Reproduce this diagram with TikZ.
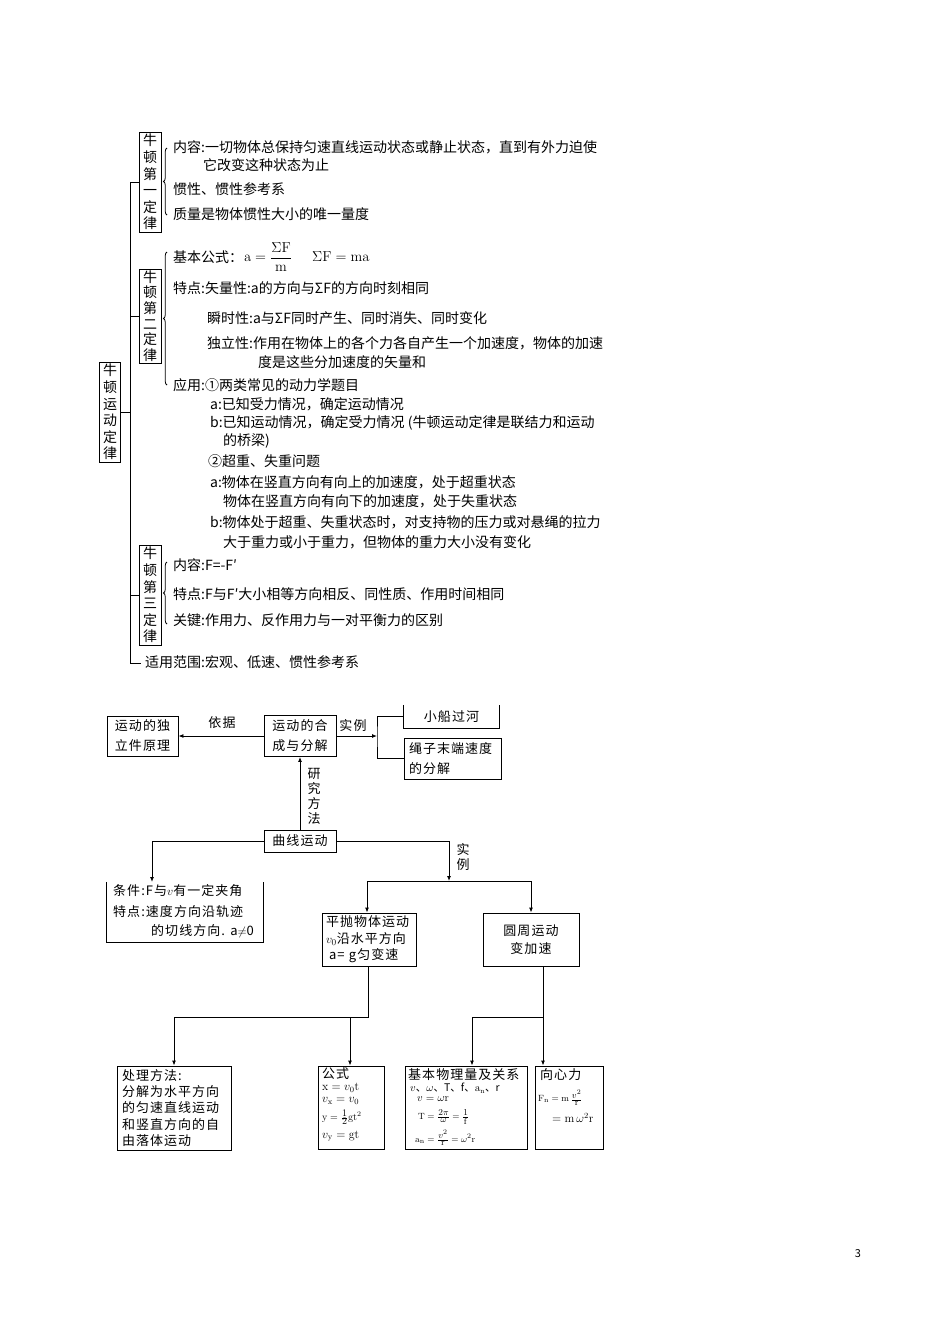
\documentclass[tikz,border=0pt]{standalone}
\usepackage{amsmath}
\usepackage[no-math]{fontspec}
\setmainfont{Noto Sans CJK SC}
\newfontfamily\bfam[LetterSpace=8]{Noto Sans CJK SC}
\usetikzlibrary{arrows.meta,decorations.pathreplacing}
\newcommand{\myfr}[2]{\frac{\textstyle #1}{\textstyle #2}}
\begin{document}
\begin{tikzpicture}[x=1pt,y=-1pt,
  ln/.style={line width=0.9pt},
  t/.style={anchor=west,inner sep=0pt,font=\fontsize{14}{17}\selectfont},
  vb/.style={draw,line width=0.9pt,inner sep=0pt,minimum width=22pt,align=center,font=\fontsize{14}{16.6}\selectfont},
  br/.style={decorate,decoration={brace,amplitude=3.5pt,mirror},line width=0.8pt},
  bxt/.style={draw,line width=0.9pt,inner sep=0pt,align=center,font=\bfam\fontsize{13}{20}\selectfont},
  bt/.style={inner sep=0pt,align=center,font=\bfam\fontsize{13}{15}\selectfont},
  lt/.style={anchor=west,inner sep=0pt,font=\bfam\fontsize{13}{15}\selectfont},
  arr/.style={line width=0.9pt,-{Latex[length=5pt,width=4pt]}},
  m/.style={anchor=west,inner sep=0pt,font=\fontsize{11.5}{13}\selectfont},
  mf/.style={anchor=west,inner sep=0pt,font=\fontsize{9.5}{11}\selectfont},
]
\useasboundingbox (0,0) rectangle (950,1344);

% ---------- Newton's laws tree ----------
\node[vb,minimum width=21pt,minimum height=100pt] (main) at (110,412) {牛\\顿\\运\\动\\定\\律};
\node[vb,minimum height=100pt] (n1) at (150,182) {牛\\顿\\第\\一\\定\\律};
\node[vb,minimum height=94pt,font=\fontsize{14}{15.6}\selectfont] (n2) at (150,316) {牛\\顿\\第\\二\\定\\律};
\node[vb,minimum height=100pt] (n3) at (150,595) {牛\\顿\\第\\三\\定\\律};

\coordinate (sT) at (130,182);
\coordinate (sM) at (130,412);
\coordinate (sB) at (130,663);
\node[t] (fw) at (145,662) {适用范围:宏观、低速、惯性参考系};
\draw[ln] (sT) -- (sB) -- ([xshift=-4pt]fw.west |- sB);
\draw[ln] (sT) -- (n1.west);
\draw[ln] (main.east) -- (sM);
\draw[ln] (n2.west -| sT) -- (n2.west);
\draw[ln] (n3.west -| sT) -- (n3.west);

\draw[br] (167,148) -- (167,215);
\draw[br] (167,252) -- (167,385);
\draw[br] (167,562) -- (167,624);

% law 1
\node[t] (a1) at (173,147) {内容:一切物体总保持匀速直线运动状态或静止状态，直到有外力迫使};
\node[t] (a2) at (203,165) {它改变这种状态为止};
\node[t] (a3) at (173,189) {惯性、惯性参考系};
\node[t] (a4) at (173,214) {质量是物体惯性大小的唯一量度};
% law 2
\node[t] (b1) at (173,257) {基本公式：};
\node[anchor=west,inner sep=0pt,font=\fontsize{14}{17}\selectfont] (b1f) at (244,257) {$\mathrm{a}=\dfrac{\Sigma\mathrm{F}}{\mathrm{m}}$};
\node[anchor=west,inner sep=0pt,font=\fontsize{14}{17}\selectfont] (b1g) at (312,257) {$\Sigma\mathrm{F}=\mathrm{ma}$};
\node[t] (b2) at (173,288) {特点:矢量性:a的方向与ΣF的方向时刻相同};
\node[t] (b3) at (207,318) {瞬时性:a与ΣF同时产生、同时消失、同时变化};
\node[t] (b4) at (207,343) {独立性:作用在物体上的各个力各自产生一个加速度，物体的加速};
\node[t] (b5) at (258,362) {度是这些分加速度的矢量和};
\node[t] (b6) at (173,385) {应用:①两类常见的动力学题目};
\node[t] (b7) at (210,404) {a:已知受力情况，确定运动情况};
\node[t] (b8) at (210,423) {b:已知运动情况，确定受力情况 (牛顿运动定律是联结力和运动};
\node[t] (b9) at (223,441) {的桥梁)};
\node[t] (b10) at (208,461) {②超重、失重问题};
\node[t] (b11) at (210,482) {a:物体在竖直方向有向上的加速度，处于超重状态};
\node[t] (b12) at (223,501) {物体在竖直方向有向下的加速度，处于失重状态};
\node[t] (b13) at (210,522) {b:物体处于超重、失重状态时，对支持物的压力或对悬绳的拉力};
\node[t] (b14) at (223,542) {大于重力或小于重力，但物体的重力大小没有变化};
% law 3
\node[t] (c1t) at (173,565) {内容:F=-F′};
\node[t] (c2t) at (173,594) {特点:F与F′大小相等方向相反、同性质、作用时间相同};
\node[t] (c3t) at (173,620) {关键:作用力、反作用力与一对平衡力的区别};

% ---------- curved motion chart ----------
\node[bxt,minimum width=71pt,minimum height=40pt] (dl) at (142.5,736) {运动的独\\立件原理};
\node[bxt,minimum width=72pt,minimum height=41pt] (hc) at (300,736) {运动的合\\成与分解};
\node[bt] (yj) at (222,723) {依据};
\node[bt] (sl) at (353,726) {实例};
\node[bt,minimum width=95pt,minimum height=23pt] (xc) at (451.5,716.5) {小船过河};
\draw[ln] (xc.north west) -- (xc.south west) -- (xc.south east) -- (xc.north east);
\node[bxt,minimum width=97pt,minimum height=41pt,text width=87pt,inner xsep=5pt,align=left] (sz) at (452.5,758.5) {绳子末端速度\\的分解};
\coordinate (bk) at (377,736);
\draw[arr] (hc.east) -- (bk);
\draw[ln] (xc.west) -| (bk) |- (sz.west);
\draw[arr] (hc.west) -- (dl.east);

\node[bxt,minimum width=72pt,minimum height=22pt] (qx) at (300,841) {曲线运动};
\draw[arr] (qx.north) -- (hc.south);
\node[bt] (yf) at (314,796) {研\\究\\方\\法};

\node[minimum width=156pt,minimum height=60pt,inner sep=0pt] (tj) at (185,912) {};
\draw[ln] (tj.north west) -- (tj.south west) -- (tj.south east) -- (tj.north east);
\node[lt] (tj1) at (113,891) {条件:F与$v$有一定夹角};
\node[lt] (tj2) at (113,912) {特点:速度方向沿轨迹};
\node[lt] (tj3) at (151,931) {的切线方向. a$\neq$0};
\coordinate (tjt) at (152,882);
\draw[arr] (qx.west) -| (tjt);

\coordinate (jn) at (449,881);
\draw[arr] (qx.east) -| (jn);
\node[bt] (sl2) at (463,857) {实\\例};
\coordinate (hl) at (367,881);
\coordinate (hr) at (531,881);
\draw[ln] (hl) -- (hr);

\node[bxt,minimum width=94pt,minimum height=53pt,text width=86pt,inner xsep=4pt,align=left,font=\bfam\fontsize{13}{16.5}\selectfont] (pp) at (369,939.5) {平抛物体运动\\$v_0$沿水平方向\\\hspace*{3pt}a= g匀变速};
\node[bxt,minimum width=96pt,minimum height=53pt,font=\bfam\fontsize{13}{18}\selectfont] (yz) at (531,939.5) {圆周运动\\变加速};
\draw[arr] (hl) -- (hl |- pp.north);
\draw[arr] (hr) -- (yz.north);

\node[bxt,minimum width=114pt,minimum height=84pt,text width=104pt,inner xsep=5pt,align=left,font=\bfam\fontsize{13}{16.2}\selectfont] (cl) at (174,1108) {处理方法:\\分解为水平方向\\的匀速直线运动\\和竖直方向的自\\由落体运动};
\node[draw,line width=0.9pt,minimum width=66pt,minimum height=83pt,inner sep=0pt] (gs) at (351,1107.5) {};
\node[draw,line width=0.9pt,minimum width=122pt,minimum height=83pt,inner sep=0pt] (jb) at (466,1107.5) {};
\node[draw,line width=0.9pt,minimum width=68pt,minimum height=83pt,inner sep=0pt] (xx) at (569,1107.5) {};

\coordinate (pb) at (368,1017);
\coordinate (c1) at (174,1017);
\coordinate (c2) at (350,1017);
\draw[ln] (pp.south -| pb) -- (pb) -- (c1);
\draw[arr] (c1) -- (c1 |- cl.north);
\draw[arr] (c2) -- (c2 |- gs.north);
\coordinate (yb) at (543,1017);
\coordinate (c3) at (472,1017);
\draw[arr] (yz.south -| yb) -- (yb |- xx.north);
\draw[ln] (yb) -- (c3);
\draw[arr] (c3) -- (c3 |- jb.north);

% formulas
\node[lt] (g1) at (322,1074) {公式};
\node[m] (g2) at (322,1088) {$\mathrm{x}=v_0\mathrm{t}$};
\node[m] (g3) at (322,1101) {$v_\mathrm{x}=v_0$};
\node[mf,font=\fontsize{10}{11}\selectfont] (g4) at (322,1117.5) {$\mathrm{y}=\myfr{1}{2}\mathrm{g}\mathrm{t}^2$};
\node[m] (g5) at (322,1136) {$v_\mathrm{y}=\mathrm{gt}$};

\node[lt] (j1) at (408,1075) {基本物理量及关系};
\node[m,font=\fontsize{10.5}{12}\selectfont] (j2) at (410,1088.5) {$v$、$\omega$、T、f、$\mathrm{a_n}$、r};
\node[m,font=\fontsize{10.5}{12}\selectfont] (j3) at (417,1099.5) {$v=\omega\mathrm{r}$};
\node[mf] (j4) at (418,1117) {$\mathrm{T}=\myfr{2\pi}{\omega}=\myfr{1}{\mathrm{f}}$};
\node[mf] (j5) at (415,1138) {$\mathrm{a_n}=\myfr{v^2}{\mathrm{r}}=\omega^2\mathrm{r}$};

\node[lt] (x1) at (540,1075) {向心力};
\node[mf] (x2) at (538,1097.5) {$\mathrm{F_n}=\mathrm{m}\,\myfr{v^2}{\mathrm{r}}$};
\node[m] (x3) at (552,1118) {$=\mathrm{m}\,\omega^2\mathrm{r}$};

\node[inner sep=0pt,font=\fontsize{11}{13}\selectfont] (pg) at (858,1254) {3};
\end{tikzpicture}
\end{document}
